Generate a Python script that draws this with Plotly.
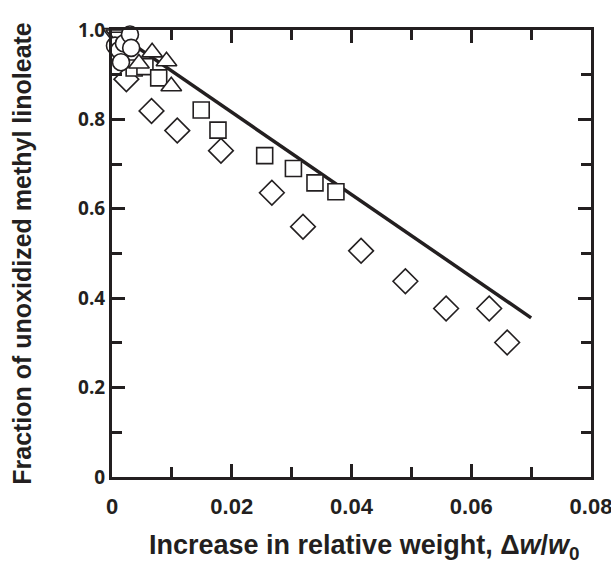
import plotly.graph_objects as go

# Data
diamond_x = [0.0024, 0.0066, 0.0109, 0.0182, 0.0267, 0.0319, 0.0416, 0.0490, 0.0558, 0.0630, 0.0660]
diamond_y = [0.890, 0.819, 0.775, 0.730, 0.636, 0.560, 0.506, 0.438, 0.377, 0.377, 0.301]

square_x = [0.0037, 0.0055, 0.0078, 0.0149, 0.0177, 0.0255, 0.0303, 0.0339, 0.0374]
square_y = [0.915, 0.918, 0.893, 0.821, 0.776, 0.719, 0.690, 0.658, 0.638]

triup_x = [0.0045, 0.0067, 0.0091, 0.0099]
triup_y = [0.925, 0.950, 0.930, 0.874]

tridown_x = [0.0002, 0.0007, 0.0012]
tridown_y = [0.993, 0.990, 0.985]

circle_x = [0.0005, 0.0012, 0.0020, 0.0030, 0.0032, 0.0015]
circle_y = [0.965, 0.955, 0.970, 0.990, 0.960, 0.928]

line_x = [0.0, 0.070]
line_y = [1.0, 0.356]

x_tickvals = [0, 0.02, 0.04, 0.06, 0.08]
x_ticktext = ["0", "0.02", "0.04", "0.06", "0.08"]
y_tickvals = [0, 0.2, 0.4, 0.6, 0.8, 1.0]
y_ticktext = ["0", "0.2", "0.4", "0.6", "0.8", "1.0"]

x_title = "Increase in relative weight, Δ<i>w</i>/<i>w</i><sub>0</sub>"
y_title = "Fraction of unoxidized methyl linoleate"

ink = "#231f20"
mk_line = dict(color=ink, width=1.6)

fig = go.Figure()
fig.add_trace(go.Scatter(x=line_x, y=line_y, mode="lines",
                         line=dict(color=ink, width=3.5), cliponaxis=False))
fig.add_trace(go.Scatter(x=diamond_x, y=diamond_y, mode="markers", cliponaxis=False,
                         marker=dict(symbol="diamond", size=19, color="white", line=mk_line)))
fig.add_trace(go.Scatter(x=square_x, y=square_y, mode="markers", cliponaxis=False,
                         marker=dict(symbol="square", size=16, color="white", line=mk_line)))
fig.add_trace(go.Scatter(x=triup_x, y=triup_y, mode="markers", cliponaxis=False,
                         marker=dict(symbol="triangle-up", size=18, color="white", line=mk_line)))
fig.add_trace(go.Scatter(x=tridown_x, y=tridown_y, mode="markers", cliponaxis=False,
                         marker=dict(symbol="triangle-down", size=18, color="white", line=mk_line)))
fig.add_trace(go.Scatter(x=circle_x, y=circle_y, mode="markers", cliponaxis=False,
                         marker=dict(symbol="circle", size=17, color="white", line=mk_line)))

axis_common = dict(
    showline=True, linecolor=ink, linewidth=3, mirror="ticks",
    ticks="inside", tickcolor=ink, tickwidth=2.5, ticklen=13,
    showgrid=False, zeroline=False, automargin=False,
    ticklabeloverflow="allow",
)

fig.update_layout(
    width=611, height=563,
    margin=dict(l=112, r=20, t=30, b=86),
    plot_bgcolor="white", paper_bgcolor="white",
    showlegend=False,
    xaxis=dict(axis_common, range=[0, 0.08], tickvals=x_tickvals, ticktext=x_ticktext,
               tickfont=dict(family="Liberation Sans", size=22, color=ink, weight="bold"),
               ticklabelstandoff=8,
               minor=dict(dtick=0.01, ticks="inside", ticklen=10, tickwidth=2.5, tickcolor=ink)),
    yaxis=dict(axis_common, range=[0, 1.0], tickvals=y_tickvals, ticktext=y_ticktext,
               tickfont=dict(family="Open Sans", size=19, color=ink, weight="bold"),
               minor=dict(dtick=0.1, ticks="inside", ticklen=10, tickwidth=2.5, tickcolor=ink),
               ticklabelstandoff=0,
               title=dict(text=y_title,
                          font=dict(family="Liberation Sans", size=25, color=ink, weight="bold"),
                          standoff=40)),
    annotations=[dict(text=x_title, xref="paper", yref="paper", x=0.527, y=-0.156,
                      xanchor="center", yanchor="middle", showarrow=False,
                      font=dict(family="Liberation Sans", size=27, color=ink, weight="bold"))],
)

fig.write_html("out.html", config={"displayModeBar": False},
               post_script="document.body.style.margin='0px';")
